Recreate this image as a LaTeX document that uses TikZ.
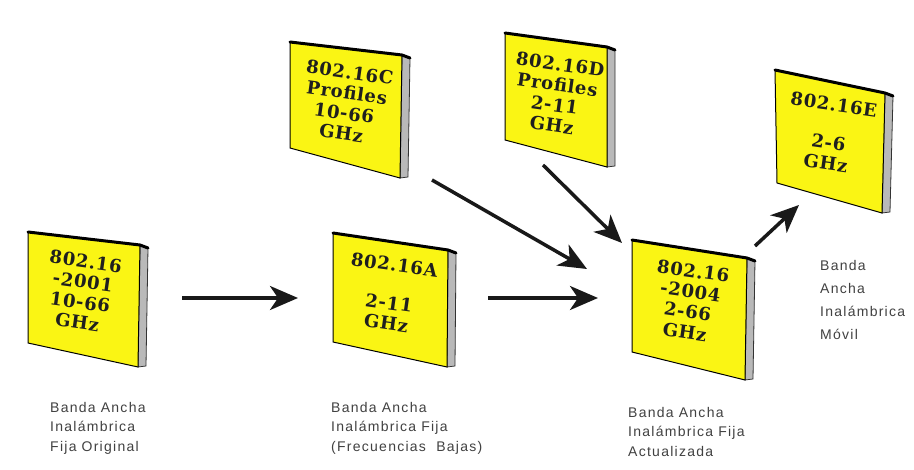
\documentclass[tikz,border=0pt]{standalone}
\usepackage{fontspec}
\setmainfont{Liberation Sans}
\newfontfamily\bookfont[LetterSpace=4]{DejaVu Serif}
\newfontfamily\lblfont[LetterSpace=9]{Liberation Sans}
\usetikzlibrary{arrows.meta,calc}
\definecolor{bookyellow}{RGB}{250,245,20}
\definecolor{labelgray}{RGB}{65,65,65}
\newcommand\drawbook[6]{%
  \coordinate (#1tl) at #2;
  \coordinate (#1tr) at #3;
  \coordinate (#1br) at #4;
  \coordinate (#1bl) at #5;
  \filldraw[booksidestyle] (#1tr) -- ($(#1tr)+(8,3)$) -- ($(#1br)+(8,-1)$) -- (#1br) -- cycle;
  \filldraw[bookfrontstyle] (#1tl) -- (#1tr) -- (#1br) -- (#1bl) -- cycle;
  \draw[booktopstyle] (#1tl) -- (#1tr) -- ($(#1tr)+(8,3)$);
  \node[booktext] (#1) at ($0.25*(#1tl)+0.25*(#1tr)+0.25*(#1br)+0.25*(#1bl)+#6$) {};
}
\begin{document}
\begin{tikzpicture}[x=1pt,y=-1pt,
  booksidestyle/.style={fill=gray!55, draw=black!80, line width=0.8pt},
  bookfrontstyle/.style={fill=bookyellow, draw=black, line width=1pt},
  booktopstyle/.style={draw=black, line width=3pt, line cap=round},
  booktext/.style={inner sep=0pt},
  btext/.style={font=\bookfont\bfseries\fontsize{18}{20.5}\selectfont, align=center, rotate=-8, inner sep=0pt, text=black!88},
  lbl/.style={font=\lblfont\fontsize{14}{19.5}\selectfont, align=left, anchor=north west, inner sep=0pt, text=labelgray},
  flow/.style={draw=black!90, line width=3.5pt, -{Stealth[length=28pt,width=24pt,inset=8pt]}}]
\useasboundingbox (0,0) rectangle (914,470);
\fill[white] (0,0) rectangle (914,470);

% books
\drawbook{b1}{(28,232)}{(140,245)}{(138,367)}{(28,343)}{(-2,-5)}
\drawbook{b2}{(290,42)}{(402,55)}{(400,178)}{(290,148)}{(0,-3)}
\drawbook{b3}{(333,233)}{(448,250)}{(447,367)}{(333,342)}{(0,-4)}
\drawbook{b4}{(505,33)}{(607,47)}{(607,167)}{(505,140)}{(0,-2)}
\drawbook{b5}{(632,240)}{(747,258)}{(745,380)}{(632,352)}{(0,-6)}
\drawbook{b6}{(775,70)}{(885,93)}{(882,213)}{(777,183)}{(0,-6)}

\node[btext] (t1) at (b1) {802.16\\-2001\\10-66\\GHz};
\node[btext] (t2) at (b2) {802.16C\\Profiles\\10-66\\GHz};
\node[btext] (t3) at (b3) {802.16A\\[18pt]2-11\\GHz};
\node[btext] (t4) at (b4) {802.16D\\Profiles\\2-11\\GHz};
\node[btext] (t5) at (b5) {802.16\\-2004\\2-66\\GHz};
\node[btext] (t6) at (b6) {802.16E\\[18pt]2-6\\GHz};

% arrow end points
\coordinate (a1s) at (182,298); \coordinate (a1e) at (298,298);
\coordinate (a2s) at (488,298); \coordinate (a2e) at (598,298);
\coordinate (a3s) at (432,180); \coordinate (a3e) at (587,269);
\coordinate (a4s) at (543,165); \coordinate (a4e) at (622,243);
\coordinate (a5s) at (755,246); \coordinate (a5e) at (799,205);
\draw[flow] (a1s) -- (a1e);
\draw[flow] (a2s) -- (a2e);
\draw[flow] (a3s) -- (a3e);
\draw[flow] (a4s) -- (a4e);
\draw[flow] (a5s) -- (a5e);

% labels
\node[lbl] (l1) at (50,402) {Banda Ancha\\Inalámbrica\\Fija Original};
\node[lbl] (l2) at (331,402) {Banda Ancha\\Inalámbrica Fija\\(Frecuencias~ Bajas)};
\node[lbl] (l3) at (628,407) {Banda Ancha\\Inalámbrica Fija\\Actualizada};
\node[lbl, font=\lblfont\fontsize{14}{23}\selectfont] (l4) at (820,260) {Banda\\Ancha\\Inalámbrica\\Móvil};
\end{tikzpicture}
\end{document}
